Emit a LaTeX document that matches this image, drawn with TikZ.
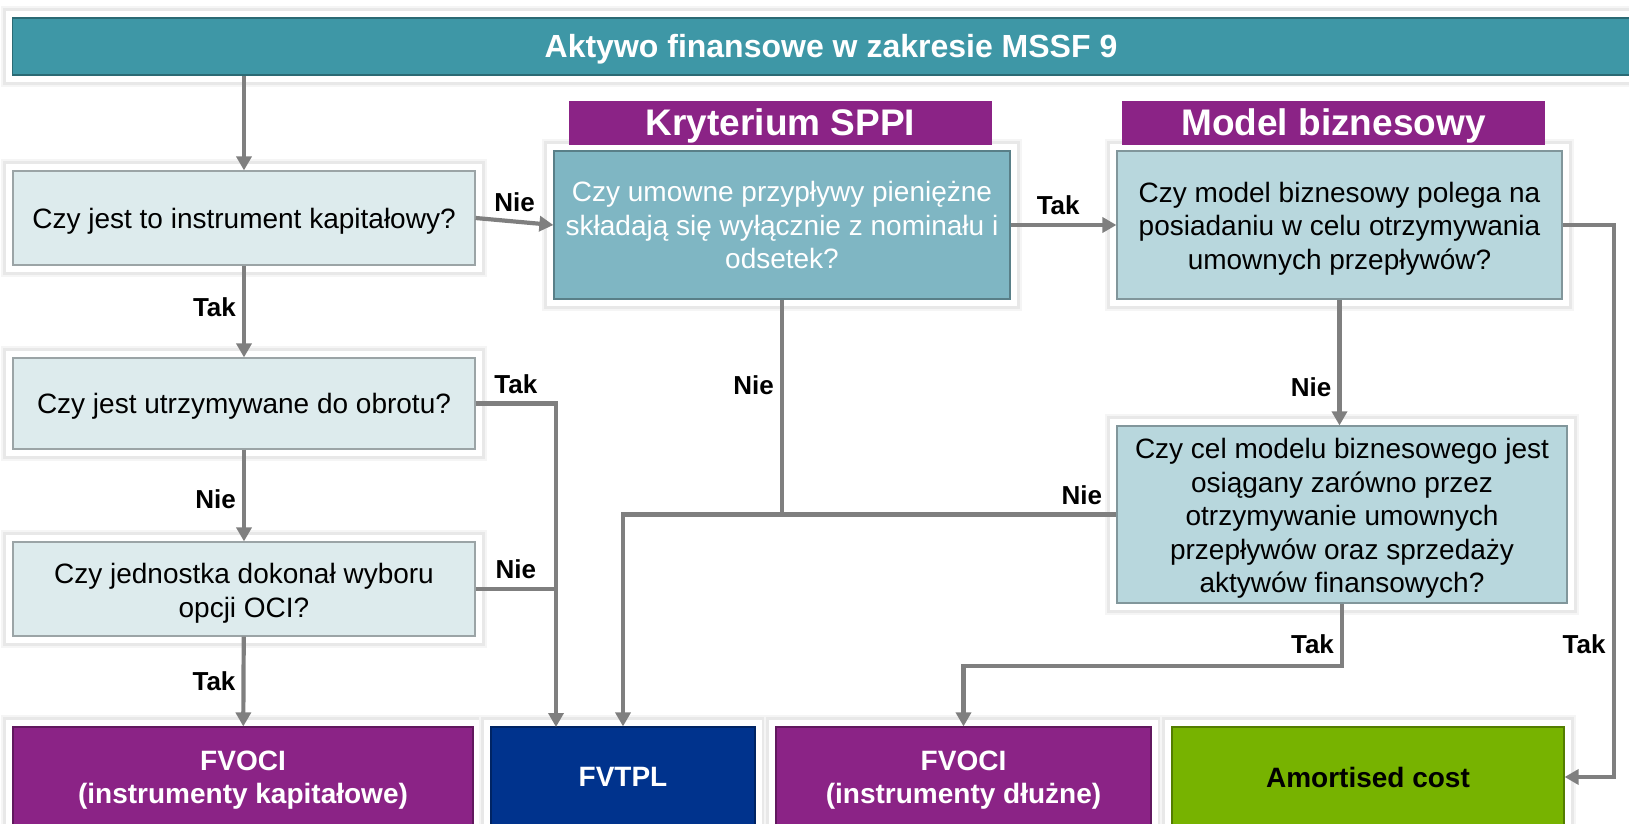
\documentclass[tikz,border=0pt]{standalone}
\usepackage{fontspec}
\setmainfont{Liberation Sans}
\usetikzlibrary{arrows.meta}

\definecolor{turkus}{HTML}{3E97A6}
\definecolor{jasny}{HTML}{DDEBED}
\definecolor{sppi}{HTML}{7FB6C3}
\definecolor{model}{HTML}{B8D7DD}
\definecolor{fiolet}{HTML}{8B2386}
\definecolor{granat}{HTML}{00338D}
\definecolor{zielony}{HTML}{77B300}
\definecolor{strzalka}{HTML}{7F7F7F}

\newcommand{\tekst}{\fontsize{14}{16.8}\selectfont}
\newcommand{\naglowek}{\fontsize{18.5}{22}\selectfont\bfseries}
% strut on the first line pushes the text a little lower in its box
\newcommand{\odstep}[1]{\rule{0pt}{#1}}

\begin{document}
\begin{tikzpicture}[x=0.5pt,y=-0.5pt,
ramka/.style={preaction={draw=black!4,line width=12pt,rounded corners=4pt},preaction={draw=black!9,line width=10pt,rounded corners=3pt},preaction={draw=white,line width=7pt,rounded corners=2pt}},
pytanie/.style={ramka,shape=rectangle,fill=#1,draw=#1!70!black,line width=0.6pt,align=center,font=\tekst,inner sep=0pt},
wynik/.style={ramka,shape=rectangle,fill=#1,draw=#1!70!black,line width=0.6pt,align=center,font=\tekst\bfseries,text=white,inner sep=0pt,minimum height=50pt},
kryterium/.style={shape=rectangle,fill=fiolet,text=white,font=\naglowek,minimum width=211.5pt,minimum height=22pt,inner sep=0pt},
przeplyw/.style={draw=strzalka,line width=2.1pt,-{Triangle[length=7pt,width=7.5pt]}},
linia/.style={draw=strzalka,line width=2.1pt},
etykieta/.style={font=\fontsize{13}{15}\selectfont\bfseries,inner sep=1pt}]
\useasboundingbox (0,0) rectangle (1629,824);
\clip (0,0) rectangle (1629,824);

\node[pytanie=turkus,text=white,font=\fontsize{16}{19}\selectfont\bfseries,minimum width=818.5pt,minimum height=28.5pt] (aktywo) at (831,46.5) {\odstep{14.7pt}Aktywo finansowe w zakresie MSSF 9};

\node[pytanie=jasny,minimum width=231pt,minimum height=47pt] (kapital) at (244,218) {\odstep{13.4pt}Czy jest to instrument kapitałowy?};
\node[pytanie=jasny,minimum width=231pt,minimum height=45.5pt] (obrot) at (244,403.5) {\odstep{13.4pt}Czy jest utrzymywane do obrotu?};
\node[pytanie=jasny,minimum width=231pt,minimum height=47pt] (oci) at (244,589) {\odstep{14.2pt}Czy jednostka dokonał wyboru\\opcji OCI?};

\node[pytanie=sppi,text=white,minimum width=228pt,minimum height=74pt] (sppi) at (782,225) {Czy umowne przypływy pieniężne\\składają się wyłącznie z nominału i\\odsetek?};
\node[pytanie=model,minimum width=222.5pt,minimum height=74pt] (model) at (1339.5,225) {\odstep{13.8pt}Czy model biznesowy polega na\\posiadaniu w celu otrzymywania\\umownych przepływów?};
\node[pytanie=model,minimum width=225pt,minimum height=88.5pt] (cel) at (1342,514.5) {\odstep{14.2pt}Czy cel modelu biznesowego jest\\osiągany zarówno przez\\otrzymywanie umownych\\przepływów oraz sprzedaży\\aktywów finansowych?};

\node[kryterium] (hsppi) at (780.5,123) {\odstep{16.5pt}Kryterium SPPI};
\node[kryterium] (hmodel) at (1333.5,123) {\odstep{16.5pt}Model biznesowy};

\node[wynik=fiolet,minimum width=230pt] (fvociK) at (243,777) {\odstep{13pt}FVOCI\\(instrumenty kapitałowe)};
\node[wynik=granat,minimum width=132pt] (fvtpl) at (623,777) {FVTPL};
\node[wynik=fiolet,minimum width=187.5pt] (fvociD) at (963.5,777) {\odstep{13pt}FVOCI\\(instrumenty dłużne)};
\node[wynik=zielony,text=black,minimum width=196pt] (amort) at (1368,777) {Amortised cost};

\coordinate (zbieg) at (556,727);

\draw[przeplyw] (kapital.north |- aktywo.south) -- (kapital);
\draw[przeplyw] (kapital) -- node[etykieta,left=2pt,pos=0.45] (t1) {Tak} (obrot);
\draw[przeplyw] (obrot) -- node[etykieta,left=2pt,pos=0.545] (n1) {Nie} (oci);
\draw[przeplyw] (oci) -- node[etykieta,left=2pt] (t2) {Tak} (fvociK);
\draw[przeplyw] (kapital.east) -- node[etykieta,above=3pt] (n2) {Nie} (sppi.west);
\draw[przeplyw] (sppi.east) -- node[etykieta,above=3pt,pos=0.45] (t3) {Tak} (model.west);
\draw[przeplyw] (obrot.east) -| node[etykieta,above=3pt,pos=0.25] (t4) {Tak} (zbieg);
\draw[linia] (oci.east) -- node[etykieta,above=3pt] (n3) {Nie} (oci.east -| zbieg);
\draw[linia] (sppi.south) -- node[etykieta,left=2pt,pos=0.4] (n4) {Nie} (sppi.south |- cel.west);
\draw[przeplyw] (cel.west) -| node[etykieta,above=3pt,pos=0.035] (n5) {Nie} (fvtpl.north);
\draw[przeplyw] (model.south) -- node[etykieta,left=2pt,pos=0.7] (n6) {Nie} (model.south |- cel.north);
\draw[przeplyw] (model.east) -- ++(51,0) |- node[etykieta,left=2pt,pos=0.38] (t5) {Tak} (amort.east);
\draw[przeplyw] (cel.south) -- node[etykieta,left=2pt,pos=0.66] (t6) {Tak} ++(0,62) -| (fvociD.north);
\end{tikzpicture}
\end{document}
